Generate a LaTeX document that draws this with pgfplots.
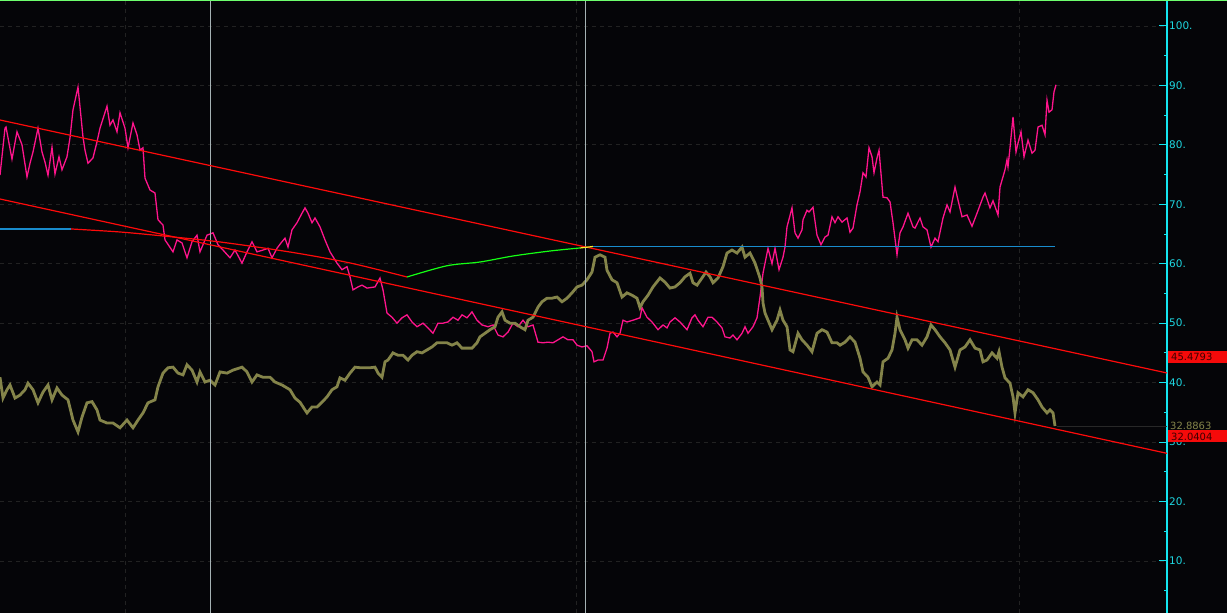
\documentclass[border=0pt]{standalone}
\usepackage{pgfplots}
\pgfplotsset{compat=1.18}
\usepackage{fontspec}
\setmainfont{DejaVu Sans}
\definecolor{bg}{RGB}{5,5,8}
\definecolor{axiscyan}{RGB}{20,230,240}
\definecolor{labelcyan}{RGB}{30,215,225}
\definecolor{gridgrey}{RGB}{34,34,34}
\definecolor{pinkline}{RGB}{255,20,140}
\definecolor{oliveline}{RGB}{132,132,74}
\definecolor{chanred}{RGB}{255,10,10}
\definecolor{curvegreen}{RGB}{20,255,20}
\definecolor{curveblue}{RGB}{25,140,205}
\definecolor{curveyellow}{RGB}{240,240,40}
\definecolor{vline}{RGB}{165,178,180}
\definecolor{topgreen}{RGB}{110,255,110}
\definecolor{boxred}{RGB}{245,10,10}
\definecolor{boxtext}{RGB}{60,0,0}
\definecolor{lastgrey}{RGB}{40,40,40}

\pgfplotstableread{
x y
0 74.9
5 82.8
6 83.0
12 77.6
17 82.2
22 80.0
27 74.6
30 76.9
33 78.8
38 82.8
42 78.8
45 77.1
48 74.9
52 79.6
55 75.1
59 78.0
62 75.8
67 78.0
70 81.2
73 85.9
78 89.7
80 86.4
83 81.3
85 79.1
88 76.9
93 77.8
97 80.5
100 82.8
107 86.5
110 83.3
113 84.2
117 82.2
120 85.4
125 82.8
128 79.5
133 83.7
137 81.7
140 79.1
143 79.5
145 74.4
150 72.4
155 71.9
158 67.4
163 66.5
165 64.0
173 62.0
177 64.0
182 63.5
187 61.0
192 63.7
197 64.8
200 62.0
207 64.8
213 65.2
218 63.2
223 62.3
230 61.0
235 62.3
242 60.1
247 62.0
252 63.7
257 62.0
263 62.3
268 62.6
272 61.0
277 62.6
281 63.5
285 64.3
288 62.8
292 65.7
297 66.9
302 68.5
305 69.4
308 68.5
312 66.9
315 67.7
320 66.2
325 64.0
330 62.0
337 60.1
342 59.0
347 59.5
350 57.8
353 55.6
358 56.1
362 56.4
367 55.9
375 56.1
380 57.6
383 55.6
387 51.7
392 51.0
397 50.0
402 50.9
407 51.4
412 50.2
417 49.4
423 50.0
428 49.2
433 48.3
438 50.0
443 50.0
448 50.2
453 51.0
458 50.5
462 51.4
467 50.9
472 51.9
477 50.5
482 49.7
488 49.4
493 49.7
498 48.0
503 47.7
508 48.5
513 50.0
518 49.4
523 50.5
528 49.4
533 49.7
538 46.8
543 46.7
548 46.8
553 46.7
558 47.2
563 47.7
568 47.2
573 47.2
577 46.3
582 46.0
587 46.2
592 45.2
594 43.5
598 43.8
603 43.8
607 45.8
610 48.3
613 48.5
617 47.7
620 48.3
623 50.5
627 50.2
633 50.5
640 50.9
642 52.6
647 51.0
652 50.2
658 48.9
663 49.7
667 49.2
670 50.2
675 50.9
680 50.2
687 48.9
692 50.9
695 51.4
698 50.5
703 49.4
708 51.0
712 51.0
717 50.2
722 49.2
725 47.7
730 47.5
733 48.0
737 47.2
742 48.3
745 49.4
748 48.3
753 49.4
757 50.9
760 54.4
763 58.4
768 62.6
772 60.0
775 62.6
779 59.0
783 61.1
785 62.8
787 66.2
792 69.4
795 65.2
798 64.3
802 65.7
803 67.4
807 69.0
809 68.7
813 69.5
817 64.8
821 63.2
825 64.5
828 64.8
832 67.9
835 66.9
838 67.9
842 67.0
847 67.7
850 65.3
853 66.0
857 69.9
860 72.1
863 75.3
866 74.6
869 79.5
872 78.0
874 75.3
877 77.8
879 79.1
883 71.2
887 71.1
890 70.4
893 66.9
897 61.5
900 65.2
903 66.2
908 68.5
913 66.2
915 66.0
920 67.7
923 66.2
927 65.7
931 62.8
935 64.3
938 63.7
943 67.7
947 69.9
950 68.7
955 72.9
958 70.7
962 67.9
967 68.2
972 66.3
977 68.5
983 71.2
985 71.9
990 69.4
993 70.6
998 68.2
1000 72.9
1005 75.8
1007 77.5
1008 76.3
1010 79.5
1013 84.7
1016 78.8
1018 80.3
1021 82.2
1024 78.0
1028 80.8
1032 78.6
1035 79.1
1038 83.0
1042 83.3
1045 81.7
1047 87.5
1049 85.5
1052 85.9
1054 88.9
1056 90.1
}\pinkdata

\pgfplotstableread{
x y
0 40.9
3 37.4
7 38.8
10 39.6
15 37.4
20 37.9
25 38.8
28 39.9
33 38.8
38 36.6
43 38.4
48 39.6
52 37.1
57 39.1
62 37.9
68 37.1
73 33.7
78 31.7
82 34.2
87 36.6
92 36.8
97 35.4
100 33.7
107 33.2
113 33.2
120 32.4
127 33.7
133 32.4
138 33.7
143 34.9
148 36.6
155 37.1
158 39.3
163 41.6
168 42.5
173 42.6
178 41.6
183 41.3
187 43.0
192 42.1
197 40.1
200 41.8
205 40.1
210 40.4
215 39.6
220 41.8
227 41.6
233 42.1
242 42.6
247 41.8
252 40.1
257 41.3
263 40.9
270 40.9
275 40.1
282 39.6
287 39.1
290 38.8
295 37.4
300 36.7
305 35.4
307 34.9
312 35.9
317 35.9
322 36.7
327 37.6
332 38.8
337 39.3
340 40.8
345 40.4
350 41.6
355 42.6
360 42.5
365 42.5
370 42.5
375 42.6
378 41.6
382 40.9
385 43.5
388 43.8
393 45.0
398 44.6
403 44.6
408 43.8
412 44.6
417 45.2
422 45.0
427 45.5
432 46.0
437 46.7
442 46.7
447 46.7
452 46.3
457 46.7
462 45.8
467 45.8
472 45.8
477 46.7
480 47.7
485 48.3
490 48.9
495 49.4
498 51.0
502 51.9
505 50.5
510 50.0
515 50.0
520 49.4
525 48.9
528 50.5
533 51.0
538 52.7
542 53.6
547 54.2
552 54.2
557 54.4
562 53.6
567 54.2
572 55.1
577 56.1
582 56.4
587 57.3
592 58.6
595 61.1
600 61.5
605 61.1
607 58.9
612 57.3
617 56.8
622 54.4
627 55.1
632 54.7
637 54.2
640 52.6
643 53.6
648 54.7
653 56.1
660 57.6
665 56.9
670 55.9
675 56.1
680 56.8
685 57.8
690 58.4
693 56.8
697 56.4
702 57.6
706 58.6
710 57.8
713 56.8
718 57.6
723 59.5
727 61.8
732 62.3
737 61.8
742 62.8
745 61.1
750 61.8
755 60.1
760 57.6
762 56.1
763 53.4
765 51.7
768 50.5
772 48.9
777 50.5
780 52.2
783 50.5
787 49.4
790 45.5
793 45.2
798 48.3
802 47.2
807 46.3
812 45.2
817 48.3
822 48.9
827 48.5
832 46.7
837 46.7
840 46.3
845 46.8
850 47.7
855 46.8
860 44.1
863 41.8
868 40.9
872 39.3
877 40.1
880 39.6
883 43.5
888 44.1
892 45.5
895 48.3
897 51.0
900 48.9
905 47.2
908 45.8
912 47.2
917 47.2
922 46.3
927 47.7
931 49.7
935 48.9
940 47.7
945 46.7
950 45.5
955 42.6
960 45.5
965 46.0
970 47.2
975 45.8
980 45.5
983 43.5
987 43.8
992 45.0
997 44.1
999 45.2
1002 42.6
1005 40.8
1010 39.9
1013 37.6
1015 34.9
1018 38.3
1023 37.6
1028 38.8
1033 38.3
1038 37.1
1042 35.9
1047 34.9
1050 35.4
1053 34.9
1055 32.7
}\olivedata

\begin{document}
\begin{tikzpicture}
\fill[bg] (0,0) rectangle (1227bp,613bp);
\useasboundingbox (0,0) rectangle (1227bp,613bp);
\begin{axis}[
  at={(0,0)}, anchor=south west,
  width=1167bp, height=613bp, scale only axis,
  xmin=0, xmax=1167, ymin=1.24, ymax=104.37,
  axis x line=none,
  axis y line*=right,
  y axis line style={draw=axiscyan, line width=1.2bp},
  ytick={10,20,30,40,50,60,70,80,90,100},
  yticklabels={10.,20.,30.,40.,50.,60.,70.,80.,90.,100.},
  minor ytick={5,15,25,35,45,55,65,75,85,95},
  tick align=inside,
  major tick length=8bp, minor tick length=3bp,
  every tick/.style={draw=axiscyan, line width=1bp},
  yticklabel style={font=\fontsize{10.5}{12}\selectfont, text=labelcyan, anchor=west, inner sep=0pt, xshift=2bp},
  ymajorgrids,
  major grid style={draw=gridgrey, dash pattern=on 4bp off 4bp, line width=0.8bp},
  clip=true,
]
% vertical dashed grid lines
\addplot[gridgrey, dash pattern=on 4bp off 4bp, line width=0.8bp] coordinates {(125,1.24) (125,104.37)};
\addplot[gridgrey, dash pattern=on 4bp off 4bp, line width=0.8bp] coordinates {(576,1.24) (576,104.37)};
\addplot[gridgrey, dash pattern=on 4bp off 4bp, line width=0.8bp] coordinates {(1019,1.24) (1019,104.37)};
% last price line
\addplot[lastgrey, line width=0.8bp] coordinates {(1057,32.7) (1167,32.7)};
% series
\addplot[pinkline, line width=1.3bp] table[x=x,y=y] {\pinkdata};
\addplot[oliveline, line width=2.8bp, line join=miter] table[x=x,y=y] {\olivedata};
% vertical markers
\addplot[vline, line width=1bp] coordinates {(210,1.24) (210,104.37)};
\addplot[vline, line width=1bp] coordinates {(585,1.24) (585,104.37)};
% channel
\addplot[chanred, line width=1.2bp] coordinates {(0,84.18) (1167,41.62)};
\addplot[chanred, line width=1.2bp] coordinates {(0,70.89) (1167,28.1)};
% curve indicator
\addplot[curveblue, line width=1.2bp] coordinates {(0,65.85) (71,65.85)};
\addplot[chanred, line width=1.2bp, smooth] coordinates {(71,65.85) (120,65.34) (163,64.67) (220,63.66) (290,61.97) (350,60.13) (407,57.77)};
\addplot[curvegreen, line width=1.2bp, smooth] coordinates {(407,57.77) (447,59.66) (480,60.29) (513,61.30) (550,62.14) (580,62.65)};
\addplot[curveyellow, line width=1.2bp] coordinates {(580,62.65) (593,62.9)};
\addplot[curveblue, line width=1.2bp] coordinates {(593,62.9) (1055,62.9)};
\end{axis}
\draw[topgreen, line width=1.5bp] (0,612.3bp) -- (1227bp,612.3bp);
\fill[boxred] (1167.6bp,250bp) rectangle (1227bp,262bp);
\node[anchor=west, inner sep=0pt, text=boxtext, font=\fontsize{10}{12}\selectfont] at (1171bp,256bp) {45.4793};
\node[anchor=west, inner sep=0pt, text=oliveline, font=\fontsize{10}{12}\selectfont] at (1170bp,187bp) {32.8863};
\fill[boxred] (1167.6bp,171bp) rectangle (1227bp,183bp);
\node[anchor=west, inner sep=0pt, text=boxtext, font=\fontsize{10}{12}\selectfont] at (1171bp,176.5bp) {32.0404};
\end{tikzpicture}
\end{document}
